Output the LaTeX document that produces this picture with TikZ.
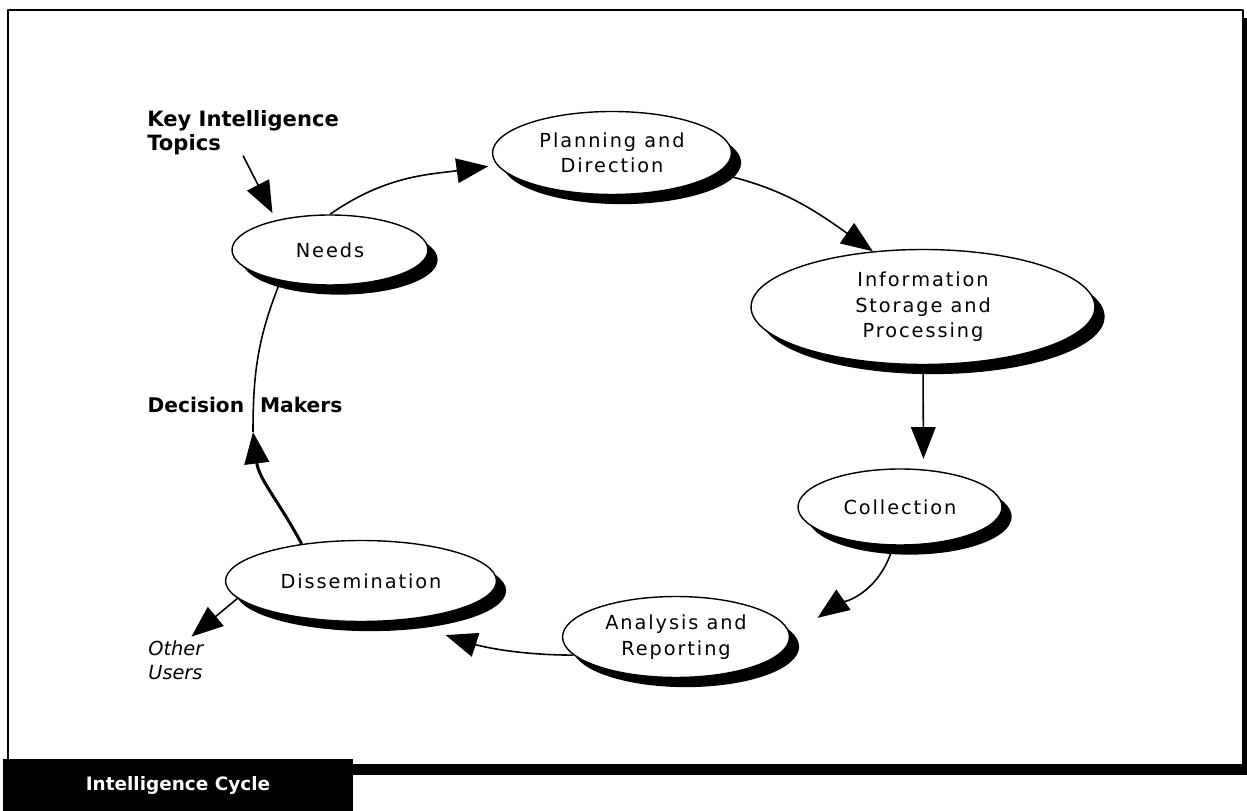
\documentclass[tikz,border=0pt]{standalone}
\usepackage{fontspec}
\setmainfont{DejaVu Sans}
\newfontfamily\stagefont[LetterSpace=10]{DejaVu Sans}
\usetikzlibrary{arrows.meta,shapes.geometric,shadows}

\begin{document}
\begin{tikzpicture}[x=0.02cm, y=0.02cm, line join=round,
  stage/.style={ellipse, draw, line width=0.8pt, fill=white, inner sep=0pt,
    align=center, font=\stagefont\fontsize{11}{14.5}\selectfont,
    general shadow={fill=black, shadow xshift=5.5pt, shadow yshift=-5.5pt}},
  flow/.style={line width=0.9pt, -{Triangle[length=18pt, width=14pt]}},
  boldlabel/.style={font=\bfseries\fontsize{11.5}{14}\selectfont, inner sep=0pt, align=left}]

\useasboundingbox (0,0) rectangle (1247,811);

\fill[black] (12,793) rectangle (1247,36);
\draw[line width=0.7pt, fill=white] (8,801) rectangle (1243,46);

\node[stage, minimum width=3.92cm, minimum height=1.40cm] (needs) at (330,561) {Needs};
\node[stage, minimum width=4.78cm, minimum height=1.66cm] (planning) at (612,658) {Planning and\\Direction};
\node[stage, minimum width=6.88cm, minimum height=2.30cm] (info) at (923,504) {Information\\Storage and\\Processing};
\node[stage, minimum width=4.08cm, minimum height=1.52cm] (collection) at (900,304) {Collection};
\node[stage, minimum width=4.54cm, minimum height=1.62cm] (analysis) at (676,174) {Analysis and\\Reporting};
\node[stage, minimum width=5.42cm, minimum height=1.62cm] (dissemination) at (361,230) {Dissemination};

\node[boldlabel, anchor=north west, font=\bfseries\fontsize{12}{14}\selectfont] (kit) at (147,701) {Key Intelligence\\Topics};
\node[boldlabel] (makers) at (245,406) {Decision\hspace{5pt} Makers};
\node[inner sep=0pt, align=left, anchor=north west, font=\itshape\fontsize{11}{14}\selectfont] (users) at (148,171) {Other\\Users};
\node[fill=black, text=white, font=\bfseries\fontsize{10.5}{12}\selectfont, minimum width=7cm, minimum height=1.04cm] (title) at (178,26) {Intelligence Cycle};

\coordinate (dmtip) at (253,379);

\draw[flow, shorten >=4.5pt] (kit.south) -- (needs.151);
\draw[flow, shorten >=5pt] (needs.north) to[out=35, in=188] (planning.186);
\draw[flow] (planning.-11) to[out=-12, in=145] (info.132);
\draw[flow, shorten >=6pt] (info.south) -- (collection.58);
\draw[flow, shorten >=19pt] (collection.-100) to[out=-105, in=35] (analysis.east);
\draw[flow, shorten >=27pt] (analysis.190) to[out=180, in=-18] (dissemination.-45);
\draw[flow, line width=1.7pt] (dissemination.148) to[out=118, in=-83] (dmtip);
\draw[line width=0.9pt] (dmtip) to[out=90, in=-112] (needs.-148);
\draw[flow, shorten >=3pt] (dissemination.-172) -- (users.60);

\end{tikzpicture}
\end{document}
